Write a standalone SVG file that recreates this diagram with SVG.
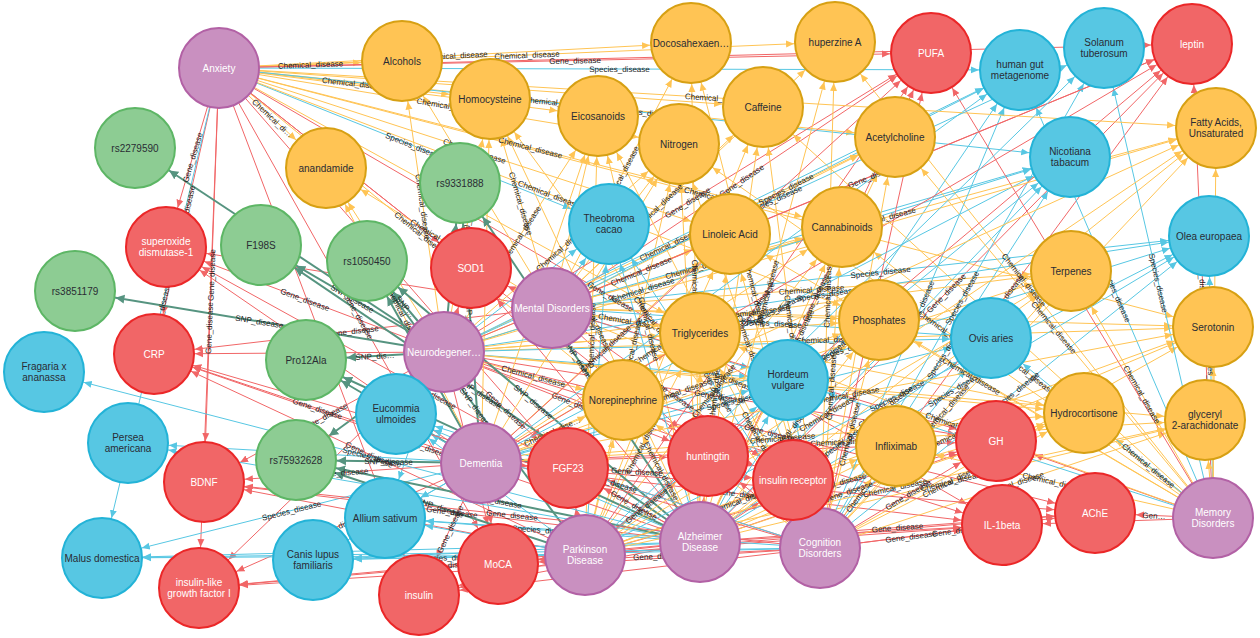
<svg xmlns="http://www.w3.org/2000/svg" width="1260" height="638" viewBox="0 0 1260 638">
<style>
.cn path{fill:none;stroke-width:1}
.cn .c{stroke:#FFC454}
.cn .g{stroke:#F16667}
.cn .s{stroke:#57C7E3}
.cn .n{stroke:#569480;stroke-width:2}
.c.e{marker-end:url(#mc)}.c.b{marker-start:url(#mc)}
.g.e{marker-end:url(#mg)}.g.b{marker-start:url(#mg)}
.s.e{marker-end:url(#ms)}.s.b{marker-start:url(#ms)}
.n.e{marker-end:url(#mn)}.n.b{marker-start:url(#mn)}
.lb text{font-family:'Liberation Sans',Arial,sans-serif;font-size:8px;fill:#222;text-anchor:middle;dominant-baseline:central}
.nd circle{stroke-width:2}
.nd text{font-family:'Liberation Sans',Arial,sans-serif;font-size:10px;text-anchor:middle}
.ko circle{fill:#FFC454;stroke:#d7a013}
.kb circle{fill:#57C7E3;stroke:#23b3d7}
.kr circle{fill:#F16667;stroke:#eb2728}
.kg circle{fill:#8DCC93;stroke:#5db665}
.kp circle{fill:#C990C0;stroke:#b261a5}
.ko text,.kb text,.kg text{fill:#2A2C34}
.kr text,.kp text{fill:#FFFFFF}
</style>
<defs>
<marker id="mc" viewBox="0 -5 50 10" markerWidth="50" markerHeight="10" markerUnits="userSpaceOnUse" refX="49" refY="0" orient="auto-start-reverse"><path d="M0,-3.5L8,0L0,3.5Z" fill="#FFC454"/></marker>
<marker id="mg" viewBox="0 -5 50 10" markerWidth="50" markerHeight="10" markerUnits="userSpaceOnUse" refX="49" refY="0" orient="auto-start-reverse"><path d="M0,-3.5L8,0L0,3.5Z" fill="#F16667"/></marker>
<marker id="ms" viewBox="0 -5 50 10" markerWidth="50" markerHeight="10" markerUnits="userSpaceOnUse" refX="49" refY="0" orient="auto-start-reverse"><path d="M0,-3.5L8,0L0,3.5Z" fill="#57C7E3"/></marker>
<marker id="mn" viewBox="0 -5 50 10" markerWidth="50" markerHeight="10" markerUnits="userSpaceOnUse" refX="50" refY="0" orient="auto-start-reverse"><path d="M0,-4.5L9,0L0,4.5Z" fill="#569480"/></marker>
</defs>
<rect width="1260" height="638" fill="#ffffff"/>
<g id="connectors" class="cn">
<path id="e1" class="c e" d="M219 68L402 61"/>
<path id="e2" class="c e" d="M219 68L691 43"/>
<path id="e3" class="c e" d="M219 68L835 42"/>
<path id="e4" class="g e" d="M219 68L931 53"/>
<path id="e5" class="s e" d="M219 68L1020 70"/>
<path id="e6" class="c e" d="M219 68L490 99"/>
<path id="e7" class="c e" d="M219 68L598 116"/>
<path id="e8" class="c e" d="M219 68L679 144"/>
<path id="e9" class="c e" d="M219 68L763 107"/>
<path id="e10" class="c e" d="M219 68L326 168"/>
<path id="e11" class="c e" d="M219 68L895 137"/>
<path id="e12" class="c e" d="M219 68L730 234"/>
<path id="e13" class="c e" d="M219 68L842 227"/>
<path id="e14" class="s e" d="M219 68L609 224"/>
<path id="e15" class="s e" d="M219 68L1070 157"/>
<path id="e16" class="c e" d="M219 68L700 333"/>
<path id="e17" class="c e" d="M219 68L879 320"/>
<path id="e18" class="c e" d="M219 68L623 400"/>
<path id="e19" class="c e" d="M219 68L1213 327"/>
<path id="e20" class="g b" d="M166 247L219 68"/>
<path id="e21" class="g b" d="M154 354L219 68"/>
<path id="e22" class="g b" d="M204 482L219 68"/>
<path id="e23" class="g b" d="M199 588L219 68"/>
<path id="e24" class="s b" d="M102 558L219 68"/>
<path id="e25" class="g e" d="M219 68L471 268"/>
<path id="e26" class="g e" d="M219 68L568 468"/>
<path id="e27" class="g e" d="M219 68L498 564"/>
<path id="e28" class="g e" d="M219 68L419 595"/>
<path id="e29" class="g e" d="M219 68L708 456"/>
<path id="e30" class="g e" d="M219 68L1002 525"/>
<path id="e31" class="c b" d="M402 61L552 308"/>
<path id="e32" class="c b" d="M490 99L552 308"/>
<path id="e33" class="c e" d="M552 308L598 116"/>
<path id="e34" class="c e" d="M552 308L679 144"/>
<path id="e35" class="c e" d="M552 308L763 107"/>
<path id="e36" class="c e" d="M552 308L691 43"/>
<path id="e37" class="c e" d="M552 308L835 42"/>
<path id="e38" class="s e" d="M552 308L609 224"/>
<path id="e39" class="c e" d="M552 308L730 234"/>
<path id="e40" class="c e" d="M552 308L842 227"/>
<path id="e41" class="c e" d="M552 308L895 137"/>
<path id="e42" class="c e" d="M552 308L700 333"/>
<path id="e43" class="c e" d="M552 308L879 320"/>
<path id="e44" class="s e" d="M552 308L788 380"/>
<path id="e45" class="s e" d="M552 308L991 338"/>
<path id="e46" class="c e" d="M552 308L1071 271"/>
<path id="e47" class="c e" d="M552 308L1213 327"/>
<path id="e48" class="c e" d="M552 308L1084 413"/>
<path id="e49" class="c e" d="M552 308L896 446"/>
<path id="e50" class="g b" d="M471 268L552 308"/>
<path id="e51" class="g e" d="M552 308L931 53"/>
<path id="e52" class="g e" d="M552 308L1192 44"/>
<path id="e53" class="s e" d="M552 308L1020 70"/>
<path id="e54" class="s e" d="M552 308L1070 157"/>
<path id="e55" class="s e" d="M552 308L1209 236"/>
<path id="e56" class="c e" d="M552 308L1216 128"/>
<path id="e57" class="g e" d="M552 308L996 441"/>
<path id="e58" class="g e" d="M552 308L708 456"/>
<path id="e59" class="g e" d="M552 308L793 480"/>
<path id="e60" class="g b" d="M154 354L552 308"/>
<path id="e61" class="g b" d="M166 247L552 308"/>
<path id="e62" class="c b" d="M326 168L552 308"/>
<path id="e63" class="n b" d="M135 148L444 352"/>
<path id="e64" class="n b" d="M75 291L444 352"/>
<path id="e65" class="n b" d="M261 245L444 352"/>
<path id="e66" class="n b" d="M367 261L444 352"/>
<path id="e67" class="n e" d="M444 352L460 183"/>
<path id="e68" class="n b" d="M306 360L444 352"/>
<path id="e69" class="n b" d="M296 460L444 352"/>
<path id="e70" class="g b" d="M166 247L444 352"/>
<path id="e71" class="g b" d="M154 354L444 352"/>
<path id="e72" class="g e" d="M444 352L471 268"/>
<path id="e73" class="g b" d="M204 482L444 352"/>
<path id="e74" class="g b" d="M199 588L444 352"/>
<path id="e75" class="g e" d="M444 352L568 468"/>
<path id="e76" class="g e" d="M444 352L708 456"/>
<path id="e77" class="g e" d="M444 352L793 480"/>
<path id="e78" class="g e" d="M444 352L498 564"/>
<path id="e79" class="g e" d="M444 352L996 441"/>
<path id="e80" class="g e" d="M444 352L1002 525"/>
<path id="e81" class="g e" d="M444 352L931 53"/>
<path id="e82" class="c b" d="M326 168L444 352"/>
<path id="e83" class="c e" d="M444 352L490 99"/>
<path id="e84" class="c b" d="M402 61L444 352"/>
<path id="e85" class="c e" d="M444 352L598 116"/>
<path id="e86" class="c e" d="M444 352L679 144"/>
<path id="e87" class="c e" d="M444 352L730 234"/>
<path id="e88" class="c e" d="M444 352L700 333"/>
<path id="e89" class="c e" d="M444 352L623 400"/>
<path id="e90" class="c e" d="M444 352L879 320"/>
<path id="e91" class="c e" d="M444 352L842 227"/>
<path id="e92" class="c e" d="M444 352L895 137"/>
<path id="e93" class="c e" d="M444 352L1213 327"/>
<path id="e94" class="c e" d="M444 352L1084 413"/>
<path id="e95" class="s b" d="M396 414L444 352"/>
<path id="e96" class="s e" d="M444 352L609 224"/>
<path id="e97" class="s e" d="M444 352L788 380"/>
<path id="e98" class="s e" d="M444 352L991 338"/>
<path id="e99" class="s e" d="M444 352L1070 157"/>
<path id="e100" class="s b" d="M385 518L444 352"/>
<path id="e101" class="n b" d="M296 460L481 463"/>
<path id="e102" class="n b" d="M367 261L481 463"/>
<path id="e103" class="n b" d="M460 183L481 463"/>
<path id="e104" class="n b" d="M306 360L481 463"/>
<path id="e105" class="g b" d="M154 354L481 463"/>
<path id="e106" class="g b" d="M204 482L481 463"/>
<path id="e107" class="g b" d="M199 588L481 463"/>
<path id="e108" class="g b" d="M166 247L481 463"/>
<path id="e109" class="g e" d="M481 463L498 564"/>
<path id="e110" class="g b" d="M419 595L481 463"/>
<path id="e111" class="g e" d="M481 463L568 468"/>
<path id="e112" class="g e" d="M481 463L708 456"/>
<path id="e113" class="g e" d="M481 463L793 480"/>
<path id="e114" class="g e" d="M481 463L996 441"/>
<path id="e115" class="g e" d="M481 463L1002 525"/>
<path id="e116" class="s b" d="M128 443L481 463"/>
<path id="e117" class="s b" d="M102 558L481 463"/>
<path id="e118" class="s b" d="M313 560L481 463"/>
<path id="e119" class="s b" d="M385 518L481 463"/>
<path id="e120" class="s b" d="M396 414L481 463"/>
<path id="e121" class="s e" d="M481 463L788 380"/>
<path id="e122" class="s e" d="M481 463L991 338"/>
<path id="e123" class="c e" d="M481 463L623 400"/>
<path id="e124" class="c e" d="M481 463L700 333"/>
<path id="e125" class="c e" d="M481 463L730 234"/>
<path id="e126" class="c e" d="M481 463L842 227"/>
<path id="e127" class="c e" d="M481 463L879 320"/>
<path id="e128" class="c e" d="M481 463L1084 413"/>
<path id="e129" class="c b" d="M326 168L481 463"/>
<path id="e130" class="c e" d="M481 463L490 99"/>
<path id="e131" class="c e" d="M481 463L598 116"/>
<path id="e132" class="c e" d="M481 463L679 144"/>
<path id="e133" class="g b" d="M498 564L585 555"/>
<path id="e134" class="g b" d="M419 595L585 555"/>
<path id="e135" class="g b" d="M568 468L585 555"/>
<path id="e136" class="g e" d="M585 555L708 456"/>
<path id="e137" class="g e" d="M585 555L793 480"/>
<path id="e138" class="g b" d="M154 354L585 555"/>
<path id="e139" class="g b" d="M204 482L585 555"/>
<path id="e140" class="g b" d="M199 588L585 555"/>
<path id="e141" class="g e" d="M585 555L1002 525"/>
<path id="e142" class="g e" d="M585 555L1095 513"/>
<path id="e143" class="g e" d="M585 555L996 441"/>
<path id="e144" class="s b" d="M385 518L585 555"/>
<path id="e145" class="s b" d="M313 560L585 555"/>
<path id="e146" class="s b" d="M102 558L585 555"/>
<path id="e147" class="s b" d="M396 414L585 555"/>
<path id="e148" class="s e" d="M585 555L788 380"/>
<path id="e149" class="c e" d="M585 555L623 400"/>
<path id="e150" class="c e" d="M585 555L700 333"/>
<path id="e151" class="c e" d="M585 555L730 234"/>
<path id="e152" class="c e" d="M585 555L842 227"/>
<path id="e153" class="c e" d="M585 555L879 320"/>
<path id="e154" class="c e" d="M585 555L896 446"/>
<path id="e155" class="c e" d="M585 555L763 107"/>
<path id="e156" class="c e" d="M585 555L679 144"/>
<path id="e157" class="c e" d="M585 555L598 116"/>
<path id="e158" class="s e" d="M585 555L609 224"/>
<path id="e159" class="n b" d="M296 460L585 555"/>
<path id="e160" class="n b" d="M367 261L585 555"/>
<path id="e161" class="s b" d="M44 372L700 542"/>
<path id="e162" class="s b" d="M128 443L700 542"/>
<path id="e163" class="s b" d="M102 558L700 542"/>
<path id="e164" class="s b" d="M313 560L700 542"/>
<path id="e165" class="s b" d="M385 518L700 542"/>
<path id="e166" class="s b" d="M396 414L700 542"/>
<path id="e167" class="n b" d="M296 460L700 542"/>
<path id="e168" class="n b" d="M306 360L700 542"/>
<path id="e169" class="n b" d="M367 261L700 542"/>
<path id="e170" class="n b" d="M460 183L700 542"/>
<path id="e171" class="n b" d="M261 245L700 542"/>
<path id="e172" class="g b" d="M154 354L700 542"/>
<path id="e173" class="g b" d="M204 482L700 542"/>
<path id="e174" class="g b" d="M199 588L700 542"/>
<path id="e175" class="g b" d="M166 247L700 542"/>
<path id="e176" class="g b" d="M471 268L700 542"/>
<path id="e177" class="g b" d="M498 564L700 542"/>
<path id="e178" class="g b" d="M419 595L700 542"/>
<path id="e179" class="g b" d="M568 468L700 542"/>
<path id="e180" class="g e" d="M700 542L708 456"/>
<path id="e181" class="g e" d="M700 542L793 480"/>
<path id="e182" class="g e" d="M700 542L996 441"/>
<path id="e183" class="g e" d="M700 542L1002 525"/>
<path id="e184" class="g e" d="M700 542L1095 513"/>
<path id="e185" class="g e" d="M700 542L1192 44"/>
<path id="e186" class="g e" d="M700 542L931 53"/>
<path id="e187" class="c b" d="M623 400L700 542"/>
<path id="e188" class="c e" d="M700 542L700 333"/>
<path id="e189" class="c e" d="M700 542L730 234"/>
<path id="e190" class="c e" d="M700 542L842 227"/>
<path id="e191" class="c e" d="M700 542L879 320"/>
<path id="e192" class="s e" d="M700 542L788 380"/>
<path id="e193" class="s e" d="M700 542L991 338"/>
<path id="e194" class="s b" d="M609 224L700 542"/>
<path id="e195" class="c b" d="M679 144L700 542"/>
<path id="e196" class="c e" d="M700 542L763 107"/>
<path id="e197" class="c b" d="M598 116L700 542"/>
<path id="e198" class="c b" d="M490 99L700 542"/>
<path id="e199" class="c b" d="M691 43L700 542"/>
<path id="e200" class="c e" d="M700 542L835 42"/>
<path id="e201" class="c e" d="M700 542L895 137"/>
<path id="e202" class="c e" d="M700 542L1071 271"/>
<path id="e203" class="c e" d="M700 542L1213 327"/>
<path id="e204" class="c e" d="M700 542L1084 413"/>
<path id="e205" class="c e" d="M700 542L1205 420"/>
<path id="e206" class="c e" d="M700 542L896 446"/>
<path id="e207" class="s e" d="M700 542L1070 157"/>
<path id="e208" class="s e" d="M700 542L1020 70"/>
<path id="e209" class="s e" d="M700 542L1209 236"/>
<path id="e210" class="c e" d="M700 542L1216 128"/>
<path id="e211" class="c b" d="M691 43L820 548"/>
<path id="e212" class="c e" d="M820 548L835 42"/>
<path id="e213" class="c b" d="M763 107L820 548"/>
<path id="e214" class="c e" d="M820 548L895 137"/>
<path id="e215" class="g e" d="M820 548L931 53"/>
<path id="e216" class="s e" d="M820 548L1020 70"/>
<path id="e217" class="g e" d="M820 548L1192 44"/>
<path id="e218" class="s e" d="M820 548L1104 48"/>
<path id="e219" class="s e" d="M820 548L1070 157"/>
<path id="e220" class="s e" d="M820 548L1209 236"/>
<path id="e221" class="c e" d="M820 548L1216 128"/>
<path id="e222" class="c e" d="M820 548L1071 271"/>
<path id="e223" class="c e" d="M820 548L1213 327"/>
<path id="e224" class="c e" d="M820 548L1205 420"/>
<path id="e225" class="c e" d="M820 548L1084 413"/>
<path id="e226" class="c e" d="M820 548L896 446"/>
<path id="e227" class="g e" d="M820 548L996 441"/>
<path id="e228" class="g e" d="M820 548L1002 525"/>
<path id="e229" class="g e" d="M820 548L1095 513"/>
<path id="e230" class="g b" d="M793 480L820 548"/>
<path id="e231" class="g b" d="M708 456L820 548"/>
<path id="e232" class="g b" d="M568 468L820 548"/>
<path id="e233" class="g b" d="M498 564L820 548"/>
<path id="e234" class="g b" d="M419 595L820 548"/>
<path id="e235" class="g b" d="M199 588L820 548"/>
<path id="e236" class="g b" d="M204 482L820 548"/>
<path id="e237" class="g b" d="M154 354L820 548"/>
<path id="e238" class="s b" d="M313 560L820 548"/>
<path id="e239" class="s b" d="M385 518L820 548"/>
<path id="e240" class="s b" d="M396 414L820 548"/>
<path id="e241" class="s b" d="M102 558L820 548"/>
<path id="e242" class="s b" d="M788 380L820 548"/>
<path id="e243" class="s e" d="M820 548L991 338"/>
<path id="e244" class="c e" d="M820 548L879 320"/>
<path id="e245" class="c e" d="M820 548L842 227"/>
<path id="e246" class="c b" d="M730 234L820 548"/>
<path id="e247" class="c b" d="M700 333L820 548"/>
<path id="e248" class="c b" d="M623 400L820 548"/>
<path id="e249" class="s b" d="M609 224L820 548"/>
<path id="e250" class="c b" d="M679 144L820 548"/>
<path id="e251" class="c b" d="M598 116L820 548"/>
<path id="e252" class="c b" d="M490 99L820 548"/>
<path id="e253" class="g b" d="M1192 44L1213 518"/>
<path id="e254" class="g b" d="M931 53L1213 518"/>
<path id="e255" class="s b" d="M1020 70L1213 518"/>
<path id="e256" class="s b" d="M1104 48L1213 518"/>
<path id="e257" class="s b" d="M1209 236L1213 518"/>
<path id="e258" class="c e" d="M1213 518L1213 327"/>
<path id="e259" class="c e" d="M1213 518L1216 128"/>
<path id="e260" class="c b" d="M1205 420L1213 518"/>
<path id="e261" class="c b" d="M1071 271L1213 518"/>
<path id="e262" class="c b" d="M1084 413L1213 518"/>
<path id="e263" class="c b" d="M895 137L1213 518"/>
<path id="e264" class="c b" d="M763 107L1213 518"/>
<path id="e265" class="c b" d="M842 227L1213 518"/>
<path id="e266" class="c b" d="M879 320L1213 518"/>
<path id="e267" class="s b" d="M991 338L1213 518"/>
<path id="e268" class="s b" d="M788 380L1213 518"/>
<path id="e269" class="c b" d="M896 446L1213 518"/>
<path id="e270" class="g b" d="M996 441L1213 518"/>
<path id="e271" class="g b" d="M1002 525L1213 518"/>
<path id="e272" class="g b" d="M1095 513L1213 518"/>
<path id="e273" class="c b" d="M730 234L1213 518"/>
<path id="e274" class="c b" d="M700 333L1213 518"/>
<path id="e275" class="c b" d="M679 144L1213 518"/>
<path id="e276" class="c b" d="M835 42L1213 518"/>
<path id="e277" class="s e" d="M444 352L1020 70"/>
<path id="e278" class="s e" d="M481 463L1020 70"/>
<path id="e279" class="s e" d="M481 463L1070 157"/>
<path id="e280" class="s e" d="M585 555L1070 157"/>
<path id="e281" class="s e" d="M444 352L1209 236"/>
<path id="e282" class="s e" d="M481 463L1209 236"/>
<path id="e283" class="s e" d="M585 555L1209 236"/>
<path id="e284" class="g e" d="M481 463L931 53"/>
<path id="e285" class="g e" d="M585 555L931 53"/>
<path id="e286" class="g e" d="M444 352L1192 44"/>
<path id="e287" class="g e" d="M481 463L1192 44"/>
<path id="e288" class="g e" d="M585 555L1192 44"/>
<path id="e289" class="c e" d="M444 352L1216 128"/>
<path id="e290" class="c e" d="M481 463L1216 128"/>
<path id="e291" class="c e" d="M585 555L1216 128"/>
<path id="e292" class="c e" d="M219 68L1216 128"/>
<path id="e293" class="c e" d="M481 463L1213 327"/>
<path id="e294" class="c e" d="M585 555L1213 327"/>
<path id="e295" class="c e" d="M444 352L1071 271"/>
<path id="e296" class="c e" d="M481 463L1071 271"/>
<path id="e297" class="c e" d="M585 555L1071 271"/>
<path id="e298" class="c e" d="M444 352L1205 420"/>
<path id="e299" class="c e" d="M481 463L1205 420"/>
<path id="e300" class="c e" d="M585 555L1205 420"/>
<path id="e301" class="c e" d="M585 555L1084 413"/>
<path id="e302" class="g e" d="M444 352L1095 513"/>
<path id="e303" class="g e" d="M481 463L1095 513"/>
<path id="e304" class="s e" d="M585 555L1104 48"/>
<path id="e305" class="s e" d="M444 352L1104 48"/>
<path id="e306" class="g e" d="M219 68L1192 44"/>
<g class="lb">
<text><textPath href="#e1" startOffset="50%">Chemical_disease</textPath></text>
<text><textPath href="#e2" startOffset="50%">Chemical_disease</textPath></text>
<text><textPath href="#e3" startOffset="50%">Chemical_disease</textPath></text>
<text><textPath href="#e4" startOffset="50%">Gene_disease</textPath></text>
<text><textPath href="#e5" startOffset="50%">Species_disease</textPath></text>
<text><textPath href="#e6" startOffset="50%">Chemical_disease</textPath></text>
<text><textPath href="#e8" startOffset="50%">Chemical_disease</textPath></text>
<text><textPath href="#e10" startOffset="50%">Chemical_di…</textPath></text>
<text><textPath href="#e11" startOffset="50%">Chemical_disease</textPath></text>
<text><textPath href="#e12" startOffset="50%">Chemical_disease</textPath></text>
<text><textPath href="#e13" startOffset="50%">Chemical_disease</textPath></text>
<text><textPath href="#e14" startOffset="50%">Species_disease</textPath></text>
<text><textPath href="#e15" startOffset="50%">Species_disease</textPath></text>
<text><textPath href="#e17" startOffset="50%">Chemical_disease</textPath></text>
<text><textPath href="#e18" startOffset="50%">Chemical_disease</textPath></text>
<text><textPath href="#e19" startOffset="50%">Chemical_disease</textPath></text>
<text><textPath href="#e20" startOffset="50%">Gene_disease</textPath></text>
<text><textPath href="#e21" startOffset="50%">Gene_disease</textPath></text>
<text><textPath href="#e22" startOffset="50%">Gene_disease</textPath></text>
<text><textPath href="#e23" startOffset="50%">Gene_disease</textPath></text>
<text><textPath href="#e24" startOffset="50%">Species_disease</textPath></text>
<text><textPath href="#e27" startOffset="50%">Gene_disease</textPath></text>
<text><textPath href="#e30" startOffset="50%">Gene_disease</textPath></text>
<text><textPath href="#e32" startOffset="50%">Chemical_disease</textPath></text>
<text><textPath href="#e35" startOffset="50%">Chemical_disease</textPath></text>
<text><textPath href="#e36" startOffset="50%">Chemical_disease</textPath></text>
<text><textPath href="#e39" startOffset="50%">Chemical_disease</textPath></text>
<text><textPath href="#e40" startOffset="50%">Chemical_disease</textPath></text>
<text><textPath href="#e42" startOffset="50%">Chemical_dis…</textPath></text>
<text><textPath href="#e45" startOffset="50%">Species_disease</textPath></text>
<text><textPath href="#e46" startOffset="50%">Chemical_disease</textPath></text>
<text><textPath href="#e49" startOffset="50%">Chemical_disease</textPath></text>
<text><textPath href="#e51" startOffset="50%">Gene_disease</textPath></text>
<text><textPath href="#e52" startOffset="50%">Gene_disease</textPath></text>
<text><textPath href="#e53" startOffset="50%">Species_disease</textPath></text>
<text><textPath href="#e55" startOffset="50%">Species_disease</textPath></text>
<text><textPath href="#e56" startOffset="50%">Chemical_disease</textPath></text>
<text><textPath href="#e59" startOffset="50%">Gene_disease</textPath></text>
<text><textPath href="#e60" startOffset="50%">Gene_disease</textPath></text>
<text><textPath href="#e62" startOffset="50%">Chemical_disease</textPath></text>
<text><textPath href="#e64" startOffset="50%">SNP_disease</textPath></text>
<text><textPath href="#e65" startOffset="50%">SNP_disease</textPath></text>
<text><textPath href="#e66" startOffset="50%">SNP…</textPath></text>
<text><textPath href="#e68" startOffset="50%">SNP_dis…</textPath></text>
<text><textPath href="#e70" startOffset="50%">Gene_disease</textPath></text>
<text><textPath href="#e73" startOffset="50%">Gene_disease</textPath></text>
<text><textPath href="#e75" startOffset="50%">Gene_disease</textPath></text>
<text><textPath href="#e76" startOffset="50%">Gene_disease</textPath></text>
<text><textPath href="#e79" startOffset="50%">Gene_disease</textPath></text>
<text><textPath href="#e81" startOffset="50%">Gene_disease</textPath></text>
<text><textPath href="#e83" startOffset="50%">Chemical_disease</textPath></text>
<text><textPath href="#e84" startOffset="50%">Chemical_disease</textPath></text>
<text><textPath href="#e85" startOffset="50%">Chemical_disease</textPath></text>
<text><textPath href="#e86" startOffset="50%">Chemical_disease</textPath></text>
<text><textPath href="#e89" startOffset="50%">Chemical_disease</textPath></text>
<text><textPath href="#e91" startOffset="50%">Chemical_disease</textPath></text>
<text><textPath href="#e92" startOffset="50%">Chemical_disease</textPath></text>
<text><textPath href="#e93" startOffset="50%">Chemical_disease</textPath></text>
<text><textPath href="#e101" startOffset="50%">SNP_disease</textPath></text>
<text><textPath href="#e103" startOffset="50%">SNP_disease</textPath></text>
<text><textPath href="#e105" startOffset="50%">Gene_disease</textPath></text>
<text><textPath href="#e106" startOffset="50%">Gene_disease</textPath></text>
<text><textPath href="#e107" startOffset="50%">Gene_disease</textPath></text>
<text><textPath href="#e110" startOffset="50%">Gene_disease</textPath></text>
<text><textPath href="#e113" startOffset="50%">Gene_disease</textPath></text>
<text><textPath href="#e115" startOffset="50%">Gene_disease</textPath></text>
<text><textPath href="#e117" startOffset="50%">Species_disease</textPath></text>
<text><textPath href="#e122" startOffset="50%">Species_disease</textPath></text>
<text><textPath href="#e123" startOffset="50%">Chemical_dise…</textPath></text>
<text><textPath href="#e125" startOffset="50%">Chemical_disease</textPath></text>
<text><textPath href="#e126" startOffset="50%">Chemical_disease</textPath></text>
<text><textPath href="#e127" startOffset="50%">Chemical_disease</textPath></text>
<text><textPath href="#e128" startOffset="50%">Chemical_disease</textPath></text>
<text><textPath href="#e129" startOffset="50%">Chemical_disease</textPath></text>
<text><textPath href="#e136" startOffset="50%">Gene_disease</textPath></text>
<text><textPath href="#e138" startOffset="50%">Gene_disease</textPath></text>
<text><textPath href="#e145" startOffset="50%">Species_disease</textPath></text>
<text><textPath href="#e150" startOffset="50%">Chemical_disease</textPath></text>
<text><textPath href="#e152" startOffset="50%">Chemical_disease</textPath></text>
<text><textPath href="#e154" startOffset="50%">Chemical_disease</textPath></text>
<text><textPath href="#e156" startOffset="50%">Chemical_disease</textPath></text>
<text><textPath href="#e157" startOffset="50%">Chemical_disease</textPath></text>
<text><textPath href="#e159" startOffset="50%">SNP_disease</textPath></text>
<text><textPath href="#e160" startOffset="50%">SNP_disease</textPath></text>
<text><textPath href="#e161" startOffset="50%">Species_disease</textPath></text>
<text><textPath href="#e165" startOffset="50%">Species_disease</textPath></text>
<text><textPath href="#e167" startOffset="50%">SNP_disease</textPath></text>
<text><textPath href="#e169" startOffset="50%">SNP_disease</textPath></text>
<text><textPath href="#e170" startOffset="50%">SNP_disease</textPath></text>
<text><textPath href="#e171" startOffset="50%">SNP_disease</textPath></text>
<text><textPath href="#e172" startOffset="50%">Gene_disease</textPath></text>
<text><textPath href="#e173" startOffset="50%">Gene_disease</textPath></text>
<text><textPath href="#e174" startOffset="50%">Gene_disease</textPath></text>
<text><textPath href="#e175" startOffset="50%">Gene_disease</textPath></text>
<text><textPath href="#e179" startOffset="50%">Gene_disease</textPath></text>
<text><textPath href="#e182" startOffset="50%">Gene_disease</textPath></text>
<text><textPath href="#e184" startOffset="50%">Gene_disease</textPath></text>
<text><textPath href="#e185" startOffset="50%">Gene_disease</textPath></text>
<text><textPath href="#e186" startOffset="50%">Gene_disease</textPath></text>
<text><textPath href="#e187" startOffset="50%">Chemical_disease</textPath></text>
<text><textPath href="#e189" startOffset="50%">Chemical_disease</textPath></text>
<text><textPath href="#e191" startOffset="50%">Chemical_disease</textPath></text>
<text><textPath href="#e193" startOffset="50%">Species_disease</textPath></text>
<text><textPath href="#e197" startOffset="50%">Chemical_disease</textPath></text>
<text><textPath href="#e198" startOffset="50%">Chemical_disease</textPath></text>
<text><textPath href="#e199" startOffset="50%">Chemical_disease</textPath></text>
<text><textPath href="#e200" startOffset="50%">Chemical_disease</textPath></text>
<text><textPath href="#e201" startOffset="50%">Chemical_disease</textPath></text>
<text><textPath href="#e202" startOffset="50%">Chemical_disease</textPath></text>
<text><textPath href="#e203" startOffset="50%">Chemical_disease</textPath></text>
<text><textPath href="#e205" startOffset="50%">Chemical_disease</textPath></text>
<text><textPath href="#e209" startOffset="50%">Species_disease</textPath></text>
<text><textPath href="#e211" startOffset="50%">Chemical_disease</textPath></text>
<text><textPath href="#e212" startOffset="50%">Chemical_disease</textPath></text>
<text><textPath href="#e213" startOffset="50%">Chemical_disease</textPath></text>
<text><textPath href="#e216" startOffset="50%">Species_disease</textPath></text>
<text><textPath href="#e217" startOffset="50%">Gene_disease</textPath></text>
<text><textPath href="#e218" startOffset="50%">Species_disease</textPath></text>
<text><textPath href="#e219" startOffset="50%">Species_disease</textPath></text>
<text><textPath href="#e220" startOffset="50%">Species_disease</textPath></text>
<text><textPath href="#e222" startOffset="50%">Chemical_disease</textPath></text>
<text><textPath href="#e224" startOffset="50%">Chemical_disease</textPath></text>
<text><textPath href="#e225" startOffset="50%">Chemical_disease</textPath></text>
<text><textPath href="#e226" startOffset="50%">Chemic…</textPath></text>
<text><textPath href="#e227" startOffset="50%">Gene_disease</textPath></text>
<text><textPath href="#e228" startOffset="50%">Gene_disease</textPath></text>
<text><textPath href="#e229" startOffset="50%">Gene_disease</textPath></text>
<text><textPath href="#e233" startOffset="50%">Gene_disease</textPath></text>
<text><textPath href="#e236" startOffset="50%">Gene_disease</textPath></text>
<text><textPath href="#e240" startOffset="50%">Species_disease</textPath></text>
<text><textPath href="#e244" startOffset="50%">Chemical_disease</textPath></text>
<text><textPath href="#e245" startOffset="50%">Chemical_disease</textPath></text>
<text><textPath href="#e247" startOffset="50%">Chemical_disease</textPath></text>
<text><textPath href="#e249" startOffset="50%">Species_disease</textPath></text>
<text><textPath href="#e250" startOffset="50%">Chemical_disease</textPath></text>
<text><textPath href="#e252" startOffset="50%">Chemical_disease</textPath></text>
<text><textPath href="#e253" startOffset="50%">Gene_disease</textPath></text>
<text><textPath href="#e255" startOffset="50%">Species_disease</textPath></text>
<text><textPath href="#e256" startOffset="50%">Species_disease</textPath></text>
<text><textPath href="#e257" startOffset="50%">Species_disease</textPath></text>
<text><textPath href="#e261" startOffset="50%">Chemical_disease</textPath></text>
<text><textPath href="#e262" startOffset="50%">Chemical_disease</textPath></text>
<text><textPath href="#e263" startOffset="50%">Chemical_disease</textPath></text>
<text><textPath href="#e265" startOffset="50%">Chemical_disease</textPath></text>
<text><textPath href="#e269" startOffset="50%">Chemical_disease</textPath></text>
<text><textPath href="#e272" startOffset="50%">Gen…</textPath></text>
<text><textPath href="#e273" startOffset="50%">Chemical_disease</textPath></text>
<text><textPath href="#e274" startOffset="50%">Chemical_disease</textPath></text>
<text><textPath href="#e275" startOffset="50%">Chemical_disease</textPath></text>
<text><textPath href="#e276" startOffset="50%">Chemical_disease</textPath></text>
<text><textPath href="#e279" startOffset="50%">Species_disease</textPath></text>
<text><textPath href="#e280" startOffset="50%">Species_disease</textPath></text>
<text><textPath href="#e281" startOffset="50%">Species_disease</textPath></text>
<text><textPath href="#e282" startOffset="50%">Species_disease</textPath></text>
<text><textPath href="#e283" startOffset="50%">Species_disease</textPath></text>
<text><textPath href="#e285" startOffset="50%">Gene_disease</textPath></text>
<text><textPath href="#e292" startOffset="50%">Chemical_disease</textPath></text>
<text><textPath href="#e293" startOffset="50%">Chemical_disease</textPath></text>
<text><textPath href="#e295" startOffset="50%">Chemical_disease</textPath></text>
<text><textPath href="#e297" startOffset="50%">Chemical_disease</textPath></text>
<text><textPath href="#e299" startOffset="50%">Chemical_disease</textPath></text>
<text><textPath href="#e300" startOffset="50%">Chemical_disease</textPath></text>
<text><textPath href="#e301" startOffset="50%">Chemical_disease</textPath></text>
<text><textPath href="#e302" startOffset="50%">Gene_disease</textPath></text>
<text><textPath href="#e305" startOffset="50%">Species_disease</textPath></text>
</g>
</g>
<g id="nodes">
<g id="n-anxiety" class="nd kp"><circle cx="219" cy="68" r="40"/><text x="219" y="71.5">Anxiety</text></g>
<g id="n-mental-disorders" class="nd kp"><circle cx="552" cy="308" r="40"/><text x="552" y="311.5">Mental Disorders</text></g>
<g id="n-neurodegenerative" class="nd kp"><circle cx="444" cy="352" r="40"/><text x="444" y="355.5">Neurodegener…</text></g>
<g id="n-dementia" class="nd kp"><circle cx="481" cy="463" r="40"/><text x="481" y="466.5">Dementia</text></g>
<g id="n-parkinson" class="nd kp"><circle cx="585" cy="555" r="40"/><text x="585" y="553">Parkinson</text><text x="585" y="564">Disease</text></g>
<g id="n-alzheimer" class="nd kp"><circle cx="700" cy="542" r="40"/><text x="700" y="540">Alzheimer</text><text x="700" y="551">Disease</text></g>
<g id="n-cognition" class="nd kp"><circle cx="820" cy="548" r="40"/><text x="820" y="546">Cognition</text><text x="820" y="557">Disorders</text></g>
<g id="n-memory" class="nd kp"><circle cx="1213" cy="518" r="40"/><text x="1213" y="516">Memory</text><text x="1213" y="527">Disorders</text></g>
<g id="n-alcohols" class="nd ko"><circle cx="402" cy="61" r="40"/><text x="402" y="64.5">Alcohols</text></g>
<g id="n-docosahexaen" class="nd ko"><circle cx="691" cy="43" r="40"/><text x="691" y="46.5">Docosahexaen…</text></g>
<g id="n-huperzine" class="nd ko"><circle cx="835" cy="42" r="40"/><text x="835" y="45.5">huperzine A</text></g>
<g id="n-homocysteine" class="nd ko"><circle cx="490" cy="99" r="40"/><text x="490" y="102.5">Homocysteine</text></g>
<g id="n-eicosanoids" class="nd ko"><circle cx="598" cy="116" r="40"/><text x="598" y="119.5">Eicosanoids</text></g>
<g id="n-nitrogen" class="nd ko"><circle cx="679" cy="144" r="40"/><text x="679" y="147.5">Nitrogen</text></g>
<g id="n-caffeine" class="nd ko"><circle cx="763" cy="107" r="40"/><text x="763" y="110.5">Caffeine</text></g>
<g id="n-anandamide" class="nd ko"><circle cx="326" cy="168" r="40"/><text x="326" y="171.5">anandamide</text></g>
<g id="n-acetylcholine" class="nd ko"><circle cx="895" cy="137" r="40"/><text x="895" y="140.5">Acetylcholine</text></g>
<g id="n-linoleic" class="nd ko"><circle cx="730" cy="234" r="40"/><text x="730" y="237.5">Linoleic Acid</text></g>
<g id="n-cannabinoids" class="nd ko"><circle cx="842" cy="227" r="40"/><text x="842" y="230.5">Cannabinoids</text></g>
<g id="n-fatty-acids" class="nd ko"><circle cx="1216" cy="128" r="40"/><text x="1216" y="126">Fatty Acids,</text><text x="1216" y="137">Unsaturated</text></g>
<g id="n-terpenes" class="nd ko"><circle cx="1071" cy="271" r="40"/><text x="1071" y="274.5">Terpenes</text></g>
<g id="n-serotonin" class="nd ko"><circle cx="1213" cy="327" r="40"/><text x="1213" y="330.5">Serotonin</text></g>
<g id="n-phosphates" class="nd ko"><circle cx="879" cy="320" r="40"/><text x="879" y="323.5">Phosphates</text></g>
<g id="n-triglycerides" class="nd ko"><circle cx="700" cy="333" r="40"/><text x="700" y="336.5">Triglycerides</text></g>
<g id="n-norepinephrine" class="nd ko"><circle cx="623" cy="400" r="40"/><text x="623" y="403.5">Norepinephrine</text></g>
<g id="n-hydrocortisone" class="nd ko"><circle cx="1084" cy="413" r="40"/><text x="1084" y="416.5">Hydrocortisone</text></g>
<g id="n-glyceryl" class="nd ko"><circle cx="1205" cy="420" r="40"/><text x="1205" y="418">glyceryl</text><text x="1205" y="429">2-arachidonate</text></g>
<g id="n-infliximab" class="nd ko"><circle cx="896" cy="446" r="40"/><text x="896" y="449.5">Infliximab</text></g>
<g id="n-human-gut" class="nd kb"><circle cx="1020" cy="70" r="40"/><text x="1020" y="68">human gut</text><text x="1020" y="79">metagenome</text></g>
<g id="n-solanum" class="nd kb"><circle cx="1104" cy="48" r="40"/><text x="1104" y="46">Solanum</text><text x="1104" y="57">tuberosum</text></g>
<g id="n-nicotiana" class="nd kb"><circle cx="1070" cy="157" r="40"/><text x="1070" y="155">Nicotiana</text><text x="1070" y="166">tabacum</text></g>
<g id="n-olea" class="nd kb"><circle cx="1209" cy="236" r="40"/><text x="1209" y="239.5">Olea europaea</text></g>
<g id="n-theobroma" class="nd kb"><circle cx="609" cy="224" r="40"/><text x="609" y="222">Theobroma</text><text x="609" y="233">cacao</text></g>
<g id="n-ovis" class="nd kb"><circle cx="991" cy="338" r="40"/><text x="991" y="341.5">Ovis aries</text></g>
<g id="n-hordeum" class="nd kb"><circle cx="788" cy="380" r="40"/><text x="788" y="378">Hordeum</text><text x="788" y="389">vulgare</text></g>
<g id="n-fragaria" class="nd kb"><circle cx="44" cy="372" r="40"/><text x="44" y="370">Fragaria x</text><text x="44" y="381">ananassa</text></g>
<g id="n-persea" class="nd kb"><circle cx="128" cy="443" r="40"/><text x="128" y="441">Persea</text><text x="128" y="452">americana</text></g>
<g id="n-eucommia" class="nd kb"><circle cx="396" cy="414" r="40"/><text x="396" y="412">Eucommia</text><text x="396" y="423">ulmoides</text></g>
<g id="n-allium" class="nd kb"><circle cx="385" cy="518" r="40"/><text x="385" y="521.5">Allium sativum</text></g>
<g id="n-malus" class="nd kb"><circle cx="102" cy="558" r="40"/><text x="102" y="561.5">Malus domestica</text></g>
<g id="n-canis" class="nd kb"><circle cx="313" cy="560" r="40"/><text x="313" y="558">Canis lupus</text><text x="313" y="569">familiaris</text></g>
<g id="n-pufa" class="nd kr"><circle cx="931" cy="53" r="40"/><text x="931" y="56.5">PUFA</text></g>
<g id="n-leptin" class="nd kr"><circle cx="1192" cy="44" r="40"/><text x="1192" y="47.5">leptin</text></g>
<g id="n-superoxide" class="nd kr"><circle cx="166" cy="247" r="40"/><text x="166" y="245">superoxide</text><text x="166" y="256">dismutase-1</text></g>
<g id="n-sod1" class="nd kr"><circle cx="471" cy="268" r="40"/><text x="471" y="271.5">SOD1</text></g>
<g id="n-crp" class="nd kr"><circle cx="154" cy="354" r="40"/><text x="154" y="357.5">CRP</text></g>
<g id="n-bdnf" class="nd kr"><circle cx="204" cy="482" r="40"/><text x="204" y="485.5">BDNF</text></g>
<g id="n-igf" class="nd kr"><circle cx="199" cy="588" r="40"/><text x="199" y="586">insulin-like</text><text x="199" y="597">growth factor I</text></g>
<g id="n-fgf23" class="nd kr"><circle cx="568" cy="468" r="40"/><text x="568" y="471.5">FGF23</text></g>
<g id="n-huntingtin" class="nd kr"><circle cx="708" cy="456" r="40"/><text x="708" y="459.5">huntingtin</text></g>
<g id="n-insulin-receptor" class="nd kr"><circle cx="793" cy="480" r="40"/><text x="793" y="483.5">insulin receptor</text></g>
<g id="n-gh" class="nd kr"><circle cx="996" cy="441" r="40"/><text x="996" y="444.5">GH</text></g>
<g id="n-il1beta" class="nd kr"><circle cx="1002" cy="525" r="40"/><text x="1002" y="528.5">IL-1beta</text></g>
<g id="n-ache" class="nd kr"><circle cx="1095" cy="513" r="40"/><text x="1095" y="516.5">AChE</text></g>
<g id="n-moca" class="nd kr"><circle cx="498" cy="564" r="40"/><text x="498" y="567.5">MoCA</text></g>
<g id="n-insulin" class="nd kr"><circle cx="419" cy="595" r="40"/><text x="419" y="598.5">insulin</text></g>
<g id="n-rs2279590" class="nd kg"><circle cx="135" cy="148" r="40"/><text x="135" y="151.5">rs2279590</text></g>
<g id="n-rs3851179" class="nd kg"><circle cx="75" cy="291" r="40"/><text x="75" y="294.5">rs3851179</text></g>
<g id="n-f198s" class="nd kg"><circle cx="261" cy="245" r="40"/><text x="261" y="248.5">F198S</text></g>
<g id="n-rs1050450" class="nd kg"><circle cx="367" cy="261" r="40"/><text x="367" y="264.5">rs1050450</text></g>
<g id="n-rs9331888" class="nd kg"><circle cx="460" cy="183" r="40"/><text x="460" y="186.5">rs9331888</text></g>
<g id="n-pro12ala" class="nd kg"><circle cx="306" cy="360" r="40"/><text x="306" y="363.5">Pro12Ala</text></g>
<g id="n-rs75932628" class="nd kg"><circle cx="296" cy="460" r="40"/><text x="296" y="463.5">rs75932628</text></g>
</g>
</svg>
